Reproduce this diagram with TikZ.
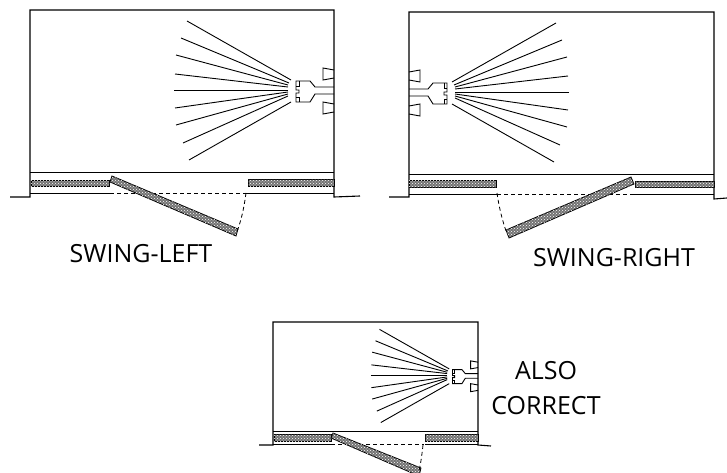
\documentclass[tikz,border=0pt]{standalone}
\usepackage{fontspec}
\setmainfont{Open Sans}
\usetikzlibrary{patterns}

\tikzset{
    wall/.style={draw, line width=1.1pt},
    thinline/.style={draw, line width=0.8pt},
    panel/.style={draw, line width=0.8pt, fill=black!55, postaction={pattern=crosshatch dots, pattern color=white}},
    swingline/.style={draw, line width=0.8pt, dash pattern=on 4pt off 3pt},
    caption/.style={font=\fontsize{25}{35}\selectfont, align=center, inner sep=0pt},
    ray/.style={line width=0.9pt},
    pics/fan/.style={code={
        % Rays
        \foreach \xa/\ya/\xb/\yb in {-147/11/-43/70, -153/28/-45/73, -158/45/-46/75, -159/64/-46/77,
            -160/80/-46/80, -159/98/-46/82, -158/115/-46/84, -151/133/-46/86, -145/150/-43/92}
            \draw[ray] (\xa,\ya) -- (\xb,\yb);
        % Nozzle
        \draw[line width=0.9pt] (0,77) -- (-19,77) -- (-24,71) -- (-38,71) -- (-38,80) -- (-35,80) -- (-35,83)
            -- (-38,83) -- (-38,92) -- (-24,92) -- (-19,84) -- (0,84);
        \draw[line width=0.6pt] (-35,71) -- (-35,76) -- (-38,76) (-35,92) -- (-35,87) -- (-38,87);
        % Lights
        \draw[line width=0.9pt] (0,60) -- (-11,58) -- (-11,70) -- (0,68);
        \draw[line width=0.9pt] (0,94) -- (-11,92) -- (-11,104) -- (0,102);
    }}
}

\begin{document}
\begin{tikzpicture}[x=1pt, y=-1pt]
    \useasboundingbox (0,0) rectangle (727,473);

    % Swing-left
    \draw[wall] (10,197) -- (30,197) -- (30,10) -- (334,10) -- (334,197) -- (360,196);
    \draw[thinline] (30,172) -- (334,172);
    \draw[thinline] (30,193) -- (110,193) (247,193) -- (334,193);
    \draw[swingline] (110,193) -- (247,193);
    \path[panel] (31,180) rectangle (109,186);
    \path[panel] (248,179) rectangle (334,186);
    \path[panel] (112,176) -- (238,229) -- (236,236) -- (110,182) -- cycle;
    \draw[swingline] (246,193) .. controls (244,208) and (241,222) .. (236,234);
    \pic at (334,10) {fan};
    \node[caption] (swingleft) at (141,254) {SWING-LEFT};

    % Swing-right
    \draw[wall] (389,197) -- (409,197) -- (409,12) -- (714,12) -- (714,199) -- (727,198);
    \draw[thinline] (409,174) -- (714,174);
    \draw[thinline] (409,194) -- (497,194) (632,194) -- (714,194);
    \draw[swingline] (497,194) -- (632,194);
    \path[panel] (409,180) rectangle (496,187);
    \path[panel] (635,181) rectangle (714,187);
    \path[panel] (631,177) -- (634,184) -- (509,238) -- (506,230) -- cycle;
    \draw[swingline] (497,193) .. controls (499,207) and (502,219) .. (506,231);
    \pic[xscale=-1] at (409,12) {fan};
    \node[caption] (swingright) at (614,258) {SWING-RIGHT};

    % Also correct
    \draw[wall] (259,445) -- (273,445) -- (273,322) -- (478,322) -- (478,445) -- (491,446);
    \draw[thinline] (273,431) -- (478,431);
    \draw[thinline] (273,444) -- (331,444) (425,444) -- (478,444);
    \draw[swingline] (331,444) -- (424,444);
    \path[panel] (274,434) rectangle (331,441);
    \path[panel] (425,434) rectangle (478,441);
    \path[panel] (333,433) -- (421,468) -- (419,476) -- (331,438) -- cycle;
    \draw[swingline] (423,445) .. controls (422,454) and (421,462) .. (419,471);
    \pic[scale=0.67] at (478,322) {fan};
    \node[caption] (alsocorrect) at (546,388) {ALSO\\CORRECT};
\end{tikzpicture}
\end{document}
